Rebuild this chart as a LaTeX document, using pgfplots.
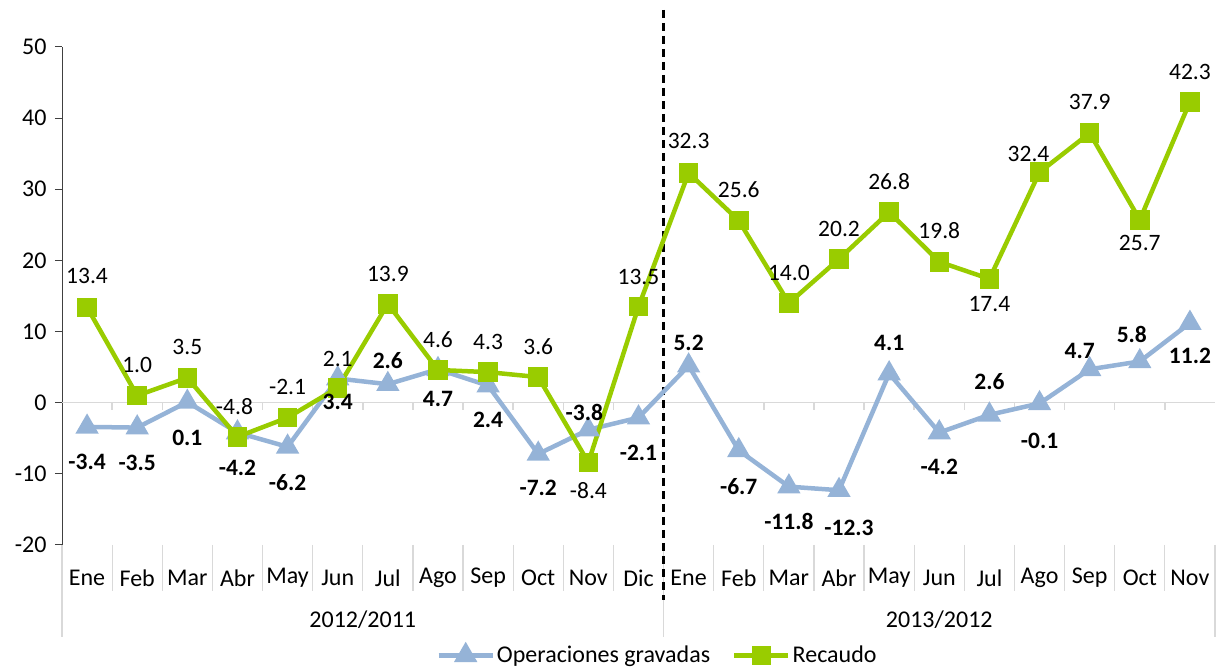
\documentclass[border=0pt]{standalone}
\usepackage{pgfplots}
\usepackage{pgfplotstable}
\pgfplotsset{compat=1.18}
\usepackage{fontspec}
\setmainfont{Carlito}
\definecolor{cgreen}{HTML}{99CC00}
\definecolor{cblue}{HTML}{95B3D7}
\definecolor{cgrid}{HTML}{D9D9D9}

\pgfplotstableread{
x y lab dx dy
0 -3.4 -3.4 0 -35
1 -3.5 -3.5 0 -35
2 0.1 0.1 0 -36
3 -4.2 -4.2 0 -35
4 -6.2 -6.2 0 -36
5 3.4 3.4 0 -23
6 2.6 2.6 0 24
7 4.7 4.7 0 -30
8 2.4 2.4 0 -34
9 -7.2 -7.2 0 -34
10 -3.8 -3.8 -4 17
11 -2.1 -2.1 0 -35
12 5.2 5.2 0 23
13 -6.7 -6.7 0 -36
14 -11.8 -11.8 0 -35
15 -12.3 -12.3 10 -38
16 4.1 4.1 0 31
17 -4.2 -4.2 0 -34
18 -1.7 2.6 0 33
19 -0.1 -0.1 0 -37
20 4.7 4.7 -10 18
21 5.8 5.8 -8 27
22 11.2 11.2 0 -33
}\opgrav

\pgfplotstableread{
x y lab dx dy
0 13.4 13.4 0 31
1 1.0 1.0 0 31
2 3.5 3.5 0 31
3 -4.8 -4.8 -3 30
4 -2.1 -2.1 0 31
5 2.1 2.1 0 29
6 13.9 13.9 0 30
7 4.6 4.6 0 30
8 4.3 4.3 0 30
9 3.6 3.6 0 30
10 -8.4 -8.4 0 -28
11 13.5 13.5 0 30
12 32.3 32.3 0 32
13 25.6 25.6 0 31
14 14.0 14.0 0 30
15 20.2 20.2 0 30
16 26.8 26.8 0 30
17 19.8 19.8 0 31
18 17.4 17.4 0 -25
19 32.4 32.4 -11 18
20 37.9 37.9 0 31
21 25.7 25.7 0 -23
22 42.3 42.3 0 30
}\recaudo

\begin{document}
\begin{tikzpicture}
\useasboundingbox (0pt,0pt) rectangle (1220pt,671pt);
\begin{axis}[
  at={(62pt,126pt)}, anchor=south west,
  width=1153pt, height=498pt, scale only axis,
  xmin=-0.5, xmax=22.5, ymin=-20, ymax=50,
  clip=false,
  separate axis lines,
  axis x line*=bottom, axis y line*=left,
  x axis line style={draw=none},
  y axis line style={black!75, line width=1pt},
  xtick={0,...,22},
  xticklabels={Ene,Feb,Mar,Abr,May,Jun,Jul,Ago,Sep,Oct,Nov,Dic,Ene,Feb,Mar,Abr,May,Jun,Jul,Ago,Sep,Oct,Nov},
  xtick style={draw=none},
  xticklabel style={anchor=center, yshift=-26pt},
  ytick={-20,-10,...,50},
  ytick style={black!75, line width=1pt},
  tick align=outside,
  major tick length=7pt,
  yticklabel style={xshift=-5pt},
  tick label style={font=\fontsize{24}{28}\selectfont, text=black},
  /pgf/number format/assume math mode=true,
  legend style={draw=none, at={(0.5,0)}, anchor=north, xshift=19pt, yshift=-97pt,
    font=\fontsize{24}{28}\selectfont, legend columns=2,
    /tikz/every even column/.append style={column sep=20pt}},
  legend image code/.code={\draw[mark repeat=2,mark phase=2] plot coordinates {(0pt,0pt) (27pt,0pt) (54pt,0pt)};},
]
% zero line with tick marks
\draw[cgrid, line width=1.5pt] (axis cs:-0.5,0) -- (axis cs:22.5,0);
\pgfplotsinvokeforeach{0.5,1.5,...,21.5}{
  \draw[cgrid, line width=1.5pt] (axis cs:#1,0) -- ++(0pt,-7pt);
  \draw[cgrid, line width=1.2pt] (axis cs:#1,-20) -- ++(0pt,-46pt);
}
\pgfplotsinvokeforeach{-0.5,11.5,22.5}{
  \draw[cgrid, line width=1.2pt] (axis cs:#1,-20) -- ++(0pt,-92pt);
}
\draw[black, line width=2.4pt, dash pattern=on 8pt off 5pt] ([yshift=37pt]axis cs:11.5,50) -- ([yshift=-55pt]axis cs:11.5,-20);
\node[font=\fontsize{24}{28}\selectfont] at ([yshift=-75pt]axis cs:5.5,-20) {2012/2011};
\node[font=\fontsize{24}{28}\selectfont] at ([yshift=-75pt]axis cs:17,-20) {2013/2012};

\addplot[cblue, line width=4.5pt, mark=triangle*, mark size=9pt, mark options={solid}]
  table[x=x, y=y] {\opgrav};
\addlegendentry{Operaciones gravadas}

\addplot[cgreen, line width=4.5pt, mark=square*, mark size=7.5pt, mark options={solid}]
  table[x=x, y=y] {\recaudo};
\addlegendentry{Recaudo}

\addplot[draw=none, mark=none, forget plot,
  point meta=explicit symbolic,
  visualization depends on={\thisrow{dx}\as\dx},
  visualization depends on={\thisrow{dy}\as\dy},
  nodes near coords,
  nodes near coords style={anchor=center, xshift=\dx pt, yshift=\dy pt, text=black,
    font=\fontsize{23.5}{27}\selectfont\bfseries, inner sep=0pt},
] table[x=x, y=y, meta=lab] {\opgrav};

\addplot[draw=none, mark=none, forget plot,
  point meta=explicit symbolic,
  visualization depends on={\thisrow{dx}\as\dx},
  visualization depends on={\thisrow{dy}\as\dy},
  nodes near coords,
  nodes near coords style={anchor=center, xshift=\dx pt, yshift=\dy pt, text=black,
    font=\fontsize{23.5}{27}\selectfont, inner sep=0pt},
] table[x=x, y=y, meta=lab] {\recaudo};
\end{axis}
\end{tikzpicture}
\end{document}
